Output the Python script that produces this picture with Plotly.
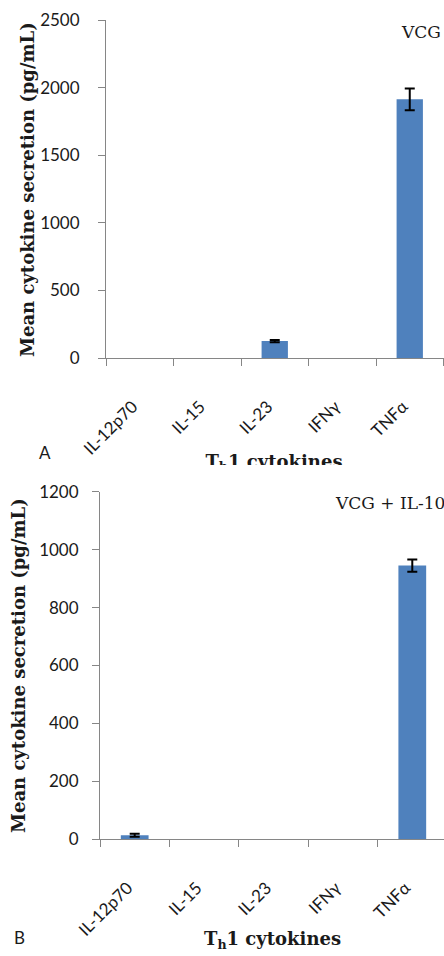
import plotly.graph_objects as go

categories = ["IL-12p70", "IL-15", "IL-23", "IFNγ", "TNFα"]
vcg_mean = [0, 0, 125, 0, 1913]
vcg_err = [0, 0, 8, 0, 80]
vcg_il10_mean = [14, 0, 0, 0, 945]
vcg_il10_err = [5, 0, 0, 0, 21]
yticks_a = [0, 500, 1000, 1500, 2000, 2500]
yticks_b = [0, 200, 400, 600, 800, 1000, 1200]

W, H = 444, 956
BAR = "#4f81bd"
AXIS = "#868686"
TXT = "#1a1a1a"
SANS = "Lato"
SERIF = "DejaVu Serif"


def px_x(p):
    return p / W


def px_y(p):
    return 1 - p / H


def shown(vals):
    return [v if v > 0 else None for v in vals]


fig = go.Figure()

fig.add_trace(go.Bar(
    x=categories, y=shown(vcg_mean), width=0.39,
    marker=dict(color=BAR, line=dict(width=0)),
    error_y=dict(type="data", array=vcg_err, color="black", thickness=2, width=5),
    xaxis="x", yaxis="y", showlegend=False, hoverinfo="skip"))

fig.add_trace(go.Bar(
    x=categories, y=shown(vcg_il10_mean), width=0.40,
    marker=dict(color=BAR, line=dict(width=0)),
    error_y=dict(type="data", array=vcg_il10_err, color="black", thickness=2, width=5),
    xaxis="x2", yaxis="y2", showlegend=False, hoverinfo="skip"))

# x-axis title of panel A, cut off at its lower part in the reference:
# drawn in an invisible strip whose bottom edge clips the text
fig.add_trace(go.Scatter(
    x=[274 / W], y=[0.03], mode="text", text=["T<sub>h</sub>1 cytokines"],
    textposition="middle center",
    textfont=dict(family=SERIF, size=18, color=TXT, weight="bold"),
    cliponaxis=True, xaxis="x3", yaxis="y3", showlegend=False, hoverinfo="skip"))

xaxis_common = dict(
    type="category", categoryorder="array", categoryarray=categories,
    showline=True, linecolor=AXIS, linewidth=1, showgrid=False, zeroline=False,
    ticks="outside", tickson="boundaries", ticklen=7, tickcolor=AXIS, tickwidth=1,
    tickangle=-45, tickfont=dict(family=SANS, size=17, color=TXT), automargin=False,
    ticklabelstandoff=31, ticklabelshift=-7,
)
yaxis_common = dict(
    showline=True, linecolor=AXIS, linewidth=1, showgrid=False, zeroline=False,
    ticks="outside", ticklen=7, tickcolor=AXIS, tickwidth=1,
    tickfont=dict(family=SANS, size=17, color=TXT),
    automargin=False,
)

ann_common = dict(xref="paper", yref="paper", showarrow=False,
                  xanchor="center", yanchor="middle")

fig.update_layout(
    width=W, height=H, margin=dict(l=0, r=0, t=0, b=0, pad=0, autoexpand=False),
    paper_bgcolor="white", plot_bgcolor="rgba(0,0,0,0)",
    bargap=0.6,
    xaxis=dict(xaxis_common, domain=[px_x(106), px_x(443.5)], range=[-0.5, 4.5], anchor="y"),
    yaxis=dict(yaxis_common, domain=[px_y(358), px_y(20)], range=[0, 2500],
               tickvals=yticks_a, anchor="x", ticklabelstandoff=15),
    xaxis2=dict(xaxis_common, domain=[px_x(100), 1.0], range=[-0.5, 4.457], anchor="y2"),
    yaxis2=dict(yaxis_common, domain=[px_y(839.3), px_y(491.7)], range=[0, 1200],
                tickvals=yticks_b, anchor="x2", ticklabelstandoff=10),
    xaxis3=dict(domain=[0, 1], range=[0, 1], visible=False, anchor="y3",
                fixedrange=True, automargin=False),
    yaxis3=dict(domain=[px_y(465), px_y(400)], range=[0, 1], visible=False,
                anchor="x3", fixedrange=True, automargin=False),
    annotations=[
        dict(ann_common, text="Mean cytokine secretion (pg/mL)", x=px_x(27), y=px_y(190),
             textangle=-90, font=dict(family=SERIF, size=18, color=TXT, weight="bold")),
        dict(ann_common, text="Mean cytokine secretion (pg/mL)", x=px_x(18), y=px_y(666),
             textangle=-90, font=dict(family=SERIF, size=18, color=TXT, weight="bold")),
        dict(ann_common, text="VCG", x=px_x(421), y=px_y(32),
             font=dict(family=SERIF, size=17, color=TXT)),
        dict(ann_common, text="VCG + IL-10", x=px_x(390), y=px_y(503),
             font=dict(family=SERIF, size=17, color=TXT)),
        dict(ann_common, text="A", x=px_x(45), y=px_y(452),
             font=dict(family=SANS, size=17, color=TXT)),
        dict(ann_common, text="B", x=px_x(19), y=px_y(937),
             font=dict(family=SANS, size=17, color=TXT)),
        dict(ann_common, text="T<sub>h</sub>1 cytokines", x=px_x(272), y=px_y(940),
             font=dict(family=SERIF, size=18, color=TXT, weight="bold")),
    ],
)

fig.write_html("out.html")
